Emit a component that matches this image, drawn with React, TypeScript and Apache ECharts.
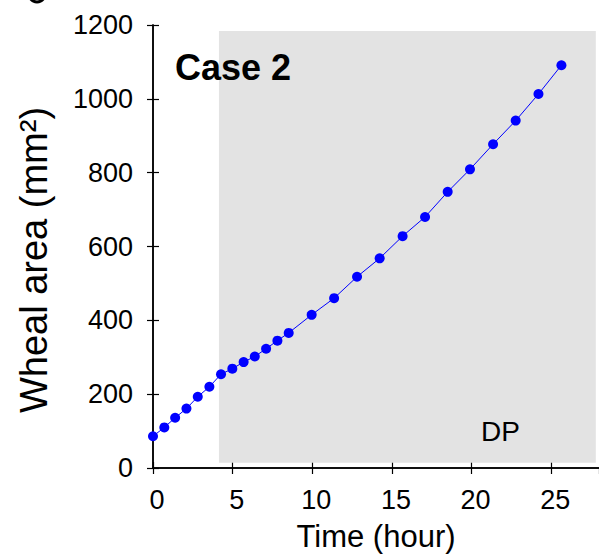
import React, { useEffect, useRef } from "react";
import * as echarts from "echarts";

// Time (hour) of each measurement
const hours = [0, 0.71, 1.39, 2.1, 2.81, 3.54, 4.27, 4.98, 5.69, 6.39, 7.1, 7.81, 8.52, 9.96, 11.37, 12.81, 14.23, 15.67, 17.08, 18.5, 19.9, 21.35, 22.77, 24.2, 25.64];
// Wheal area (mm²)
const wheal = [86, 110, 136, 161, 193, 220, 254, 269, 287, 302, 323, 345, 366, 415, 460, 518, 568, 628, 680, 748, 809, 877, 941, 1013, 1091];
// DP shaded phase (hour range, area range)
const dpHours = [4.14, 27.8];
const dpArea = [14, 1184];

const FONT = "'Liberation Sans', Helvetica, Arial, sans-serif";

export default function App() {
  const ref = useRef<HTMLDivElement>(null);
  useEffect(() => {
    const chart = echarts.init(ref.current!, null, { renderer: "svg" });
    const axisLine = { show: true, lineStyle: { color: "#000", width: 1.5 } };
    const axisTick = { show: true, inside: true, length: 6, lineStyle: { color: "#000", width: 1.2 } };
    chart.setOption({
      animation: false,
      backgroundColor: "#fff",
      grid: { left: 153, right: -2, top: 25, bottom: 85 },
      xAxis: [
        {
          type: "value",
          min: 0,
          max: 28,
          interval: 5,
          position: "bottom",
          axisLine,
          axisTick,
          splitLine: { show: false },
          axisLabel: {
            fontSize: 27,
            color: "#000",
            fontFamily: FONT,
            margin: 18,
            padding: [0, 0, 0, 8],
            showMaxLabel: false,
            formatter: (v: number) => String(v),
          },
          name: "Time (hour)",
          nameLocation: "middle",
          nameGap: 53,
          nameTextStyle: { fontSize: 31, color: "#000", fontFamily: FONT },
        },
        {
          type: "value",
          min: 0,
          max: 28,
          interval: 5,
          position: "top",
          axisLine,
          axisTick,
          splitLine: { show: false },
          axisLabel: { show: false },
        },
      ],
      yAxis: [
        {
          type: "value",
          min: 0,
          max: 1200,
          interval: 200,
          position: "left",
          axisLine,
          axisTick,
          splitLine: { show: false },
          axisLabel: { fontSize: 27, color: "#000", fontFamily: FONT, margin: 20, formatter: (v: number) => String(v) },
        },
        {
          type: "value",
          min: 0,
          max: 1200,
          interval: 200,
          position: "right",
          axisLine,
          axisTick,
          splitLine: { show: false },
          axisLabel: { show: false },
        },
      ],
      series: [
        {
          type: "line",
          data: hours.map((h, i) => [h, wheal[i]]),
          symbol: "circle",
          symbolSize: 10,
          itemStyle: { color: "#0000ff" },
          lineStyle: { color: "#0000ff", width: 1 },
          z: 5,
          markArea: {
            silent: true,
            itemStyle: { color: "#e3e3e3" },
            data: [[{ coord: [dpHours[0], dpArea[0]] }, { coord: [dpHours[1], dpArea[1]] }]],
            z: 1,
          },
        },
      ],
      graphic: [
        {
          type: "text",
          x: 34,
          y: 260,
          rotation: Math.PI / 2,
          style: {
            text: "Wheal area (mm²)",
            fontSize: 38,
            fontFamily: FONT,
            fill: "#000",
            align: "center",
            verticalAlign: "middle",
          },
        },
        {
          type: "text",
          x: 175,
          y: 67,
          z: 10,
          style: {
            text: "Case 2",
            fontSize: 36,
            fontWeight: "bold",
            fontFamily: FONT,
            fill: "#000",
            align: "left",
            verticalAlign: "middle",
          },
        },
        {
          type: "text",
          x: 481,
          y: 431,
          z: 10,
          style: {
            text: "DP",
            fontSize: 28,
            fontFamily: FONT,
            fill: "#000",
            align: "left",
            verticalAlign: "middle",
          },
        },
        {
          type: "arc",
          shape: { cx: 37, cy: -6, r: 8, startAngle: Math.PI * 0.2, endAngle: Math.PI * 0.8 },
          style: { stroke: "#000", lineWidth: 3, fill: "none" },
        },
      ],
    });
    return () => chart.dispose();
  }, []);
  return <div ref={ref} style={{ position: "fixed", left: 0, top: 0, width: 599, height: 557 }} />;
}
